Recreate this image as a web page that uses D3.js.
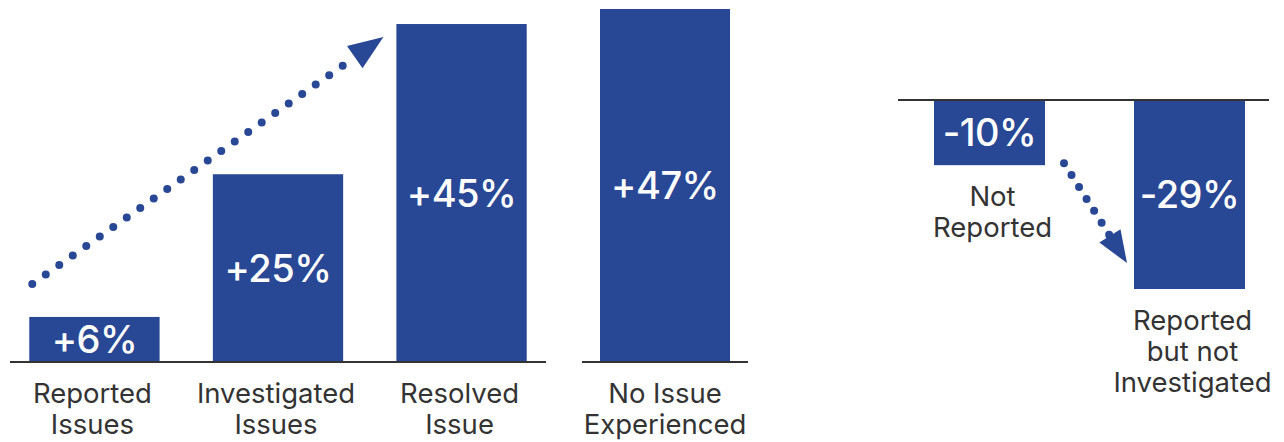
<!DOCTYPE html>
<html>
<head>
<meta charset="utf-8">
<script src="https://cdn.jsdelivr.net/npm/d3@7"></script>
<style>
  html, body { margin: 0; padding: 0; background: #fff; }
  svg { display: block; }
  text { font-family: Inter, "Noto Sans", sans-serif; }
</style>
</head>
<body>
<svg id="chart" width="1284" height="442"></svg>
<script>
// change in reporting outcomes
const growthCats   = ['Reported Issues', 'Investigated Issues', 'Resolved Issue'];
const growthValues = [6, 25, 45];
const growthLines  = [['Reported', 'Issues'], ['Investigated', 'Issues'], ['Resolved', 'Issue']];

const refCats   = ['No Issue Experienced'];
const refValues = [47];
const refLines  = [['No Issue', 'Experienced']];

const dropCats   = ['Not Reported', 'Reported but not Investigated'];
const dropValues = [-10, -29];
const dropLines  = [['Not', 'Reported'], ['Reported', 'but not', 'Investigated']];

const barColor = '#284896';
const inkColor = '#333333';

const svg = d3.select('#chart');

function fmt(v) { return (v > 0 ? '+' : '') + v + '%'; }

// scales
const yUp = d3.scaleLinear().domain([0, 47]).range([362, 9]);
const yDown = d3.scaleLinear().domain([0, -29]).range([100, 289]);

const xGrowth = d3.scaleBand().domain(growthCats).range([10, 546])
    .paddingInner(0.29).paddingOuter(0.105);
const xRef = d3.scaleBand().domain(refCats).range([582, 748]).padding(0.1217);
const xDrop = d3.scaleBand().domain(dropCats).range([898, 1269])
    .paddingInner(0.445).paddingOuter(0.15).align(0.6);

function drawGroup(cats, values, lines, x, y, opts) {
    const g = svg.append('g');
    const rows = cats.map((c, i) => ({ cat: c, value: values[i], lines: lines[i] }));

    g.selectAll('rect').data(rows).enter().append('rect')
        .attr('x', d => x(d.cat))
        .attr('width', x.bandwidth())
        .attr('y', d => Math.min(y(d.value), y(0)))
        .attr('height', d => Math.abs(y(d.value) - y(0)))
        .attr('fill', barColor);

    g.append('line')
        .attr('x1', x.range()[0]).attr('x2', x.range()[1])
        .attr('y1', y(0)).attr('y2', y(0))
        .attr('stroke', inkColor).attr('stroke-width', 2);

    g.selectAll('text.val').data(rows).enter().append('text')
        .attr('class', 'val')
        .attr('x', d => x(d.cat) + x.bandwidth() / 2)
        .attr('y', d => (y(d.value) + y(0)) / 2)
        .attr('dy', '0.36em')
        .attr('text-anchor', 'middle')
        .attr('fill', '#fff')
        .attr('font-size', 38)
        .attr('font-weight', 500)
        .attr('letter-spacing', -0.5)
        .text(d => fmt(d.value));

    const lab = g.selectAll('text.cat').data(rows).enter().append('text')
        .attr('class', 'cat')
        .attr('text-anchor', 'middle')
        .attr('fill', inkColor)
        .attr('font-size', 27.5)
        .attr('transform', d => {
            const cx = x(d.cat) + x.bandwidth() / 2 + opts.nudge;
            const base = Math.max(y(d.value), y(0)) + 41 + opts.shift;
            return 'translate(' + cx + ',' + base + ')';
        });
    lab.selectAll('tspan').data(d => d.lines).enter().append('tspan')
        .attr('x', 0)
        .attr('y', (d, i) => i * 31)
        .text(d => d);
}

drawGroup(growthCats, growthValues, growthLines, xGrowth, yUp, { shift: 0, nudge: -2 });
drawGroup(refCats, refValues, refLines, xRef, yUp, { shift: 0, nudge: 0 });
drawGroup(dropCats, dropValues, dropLines, xDrop, yDown, { shift: 0, nudge: 3 });

// dotted trend arrows
function dottedArrow(start, tip, gap, headLen, headHalf) {
    const dx = tip[0] - start[0], dy = tip[1] - start[1];
    const len = Math.sqrt(dx * dx + dy * dy);
    const ux = dx / len, uy = dy / len;
    const base = [tip[0] - ux * headLen, tip[1] - uy * headLen];
    const run = len - headLen;
    const n = Math.floor(run / gap + 0.01);
    const g = svg.append('g').attr('fill', barColor);
    g.selectAll('circle').data(d3.range(n + 1)).enter().append('circle')
        .attr('cx', i => start[0] + ux * i * gap)
        .attr('cy', i => start[1] + uy * i * gap)
        .attr('r', 4);
    const pts = [
        tip,
        [base[0] - uy * headHalf, base[1] + ux * headHalf],
        [base[0] + uy * headHalf, base[1] - ux * headHalf]
    ];
    g.append('path').attr('d', d3.line()(pts) + 'Z');
}

dottedArrow(
    [xGrowth(growthCats[0]) + 3, yUp(growthValues[0]) - 33],
    [xGrowth(growthCats[2]) - 13, yUp(growthValues[2]) + 13],
    16.5, 35, 13.5);

dottedArrow(
    [xDrop(dropCats[0]) + xDrop.bandwidth() + 19, yDown(dropValues[0]) - 2],
    [xDrop(dropCats[1]) - 7, yDown(dropValues[1]) - 26],
    14.1, 32, 12.5);
</script>
</body>
</html>
